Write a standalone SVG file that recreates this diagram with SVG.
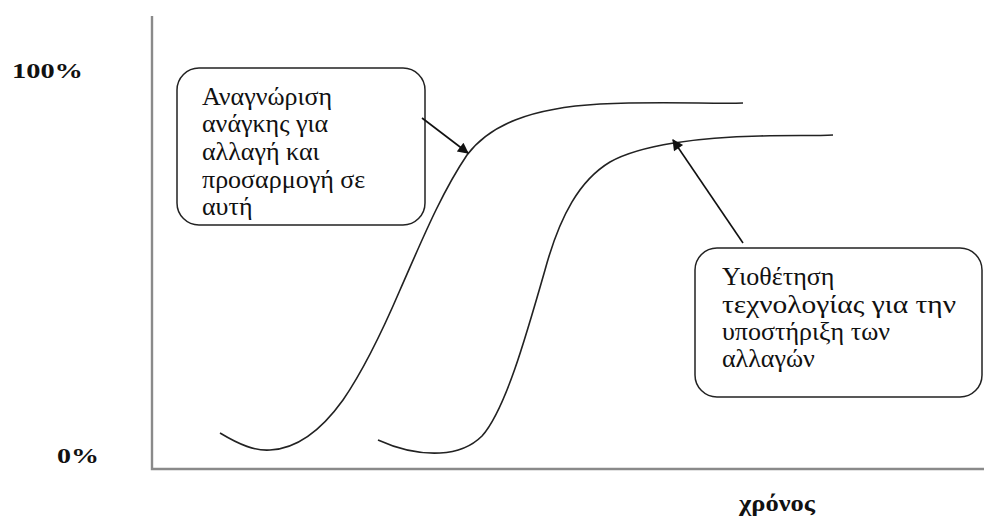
<svg xmlns="http://www.w3.org/2000/svg" width="984" height="521" viewBox="0 0 984 521">
<style>
.t{font-family:"Liberation Serif","Times New Roman",serif;font-size:26px;fill:#111}
.lb{font-family:"Liberation Serif","Times New Roman",serif;font-weight:bold;font-size:21px;fill:#111}
.box{fill:#fff;stroke:#222;stroke-width:1.5}
.curve{fill:none;stroke:#222;stroke-width:1.6}
.axis{fill:none;stroke:#8a8a8a;stroke-width:2.4}
.arr{fill:none;stroke:#111;stroke-width:1.6;marker-end:url(#ah)}
</style>
<defs>
<marker id="ah" viewBox="0 0 10 10" refX="9" refY="5" markerWidth="15" markerHeight="11" markerUnits="userSpaceOnUse" orient="auto">
<path d="M0,0 L10,5 L0,10 z" fill="#111"/>
</marker>
</defs>
<g id="axes">
<path class="axis" d="M152,16 L152,469 L984,469"/>
</g>
<g id="labels">
<text class="lb" x="12" y="78" textLength="71" lengthAdjust="spacingAndGlyphs">100%</text>
<text class="lb" x="57" y="463" textLength="42" lengthAdjust="spacingAndGlyphs">0%</text>
<text class="lb" x="739" y="511" style="font-size:24px" textLength="76" lengthAdjust="spacingAndGlyphs">χρόνος</text>
</g>
<g id="curves">
<path class="curve" d="M220,433 C240,445 255,451 270,450 C295,449 320,432 343,400 C365,368 385,325 400,290 C420,245 440,195 467,155 C490,125 530,108 600,104 C660,101 710,104 743,103"/>
<path class="curve" d="M378,440 C400,450 420,454 440,453 C460,452 472,446 482,436 C505,410 525,340 545,270 C560,215 580,180 610,162 C640,145 700,137 760,136 C790,135 815,136 833,135"/>
</g>
<g id="node1">
<rect class="box" x="177" y="68" width="248" height="157" rx="22"/>
<text class="t" x="202" y="105">Αναγνώριση</text>
<text class="t" x="202" y="132">ανάγκης για</text>
<text class="t" x="202" y="160">αλλαγή και</text>
<text class="t" x="202" y="188">προσαρμογή σε</text>
<text class="t" x="202" y="215">αυτή</text>
</g>
<g id="node2">
<rect class="box" x="695" y="248" width="287" height="149" rx="22"/>
<text class="t" x="722" y="285">Υιοθέτηση</text>
<text class="t" x="722" y="313" textLength="234" lengthAdjust="spacingAndGlyphs">τεχνολογίας για την</text>
<text class="t" x="722" y="340">υποστήριξη των</text>
<text class="t" x="722" y="367">αλλαγών</text>
</g>
<g id="connectors">
<line class="arr" x1="422" y1="118" x2="468" y2="153"/>
<line class="arr" x1="743" y1="243" x2="673" y2="140"/>
</g>
</svg>
